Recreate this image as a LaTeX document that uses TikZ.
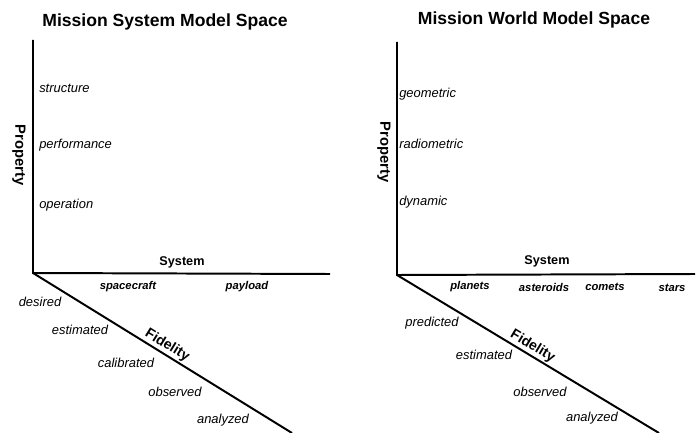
\documentclass[tikz,border=0pt]{standalone}
\usepackage{fontspec}
\setmainfont{Liberation Sans}
\usetikzlibrary{positioning}

\tikzset{
  axis/.style={line width=1.4pt},
  title/.style={font=\bfseries\fontsize{12.5}{14}\selectfont},
  axlabel/.style={font=\bfseries\fontsize{9}{10}\selectfont},
  val/.style={font=\itshape\fontsize{9.2}{10}\selectfont, anchor=west, inner sep=0pt},
  sysval/.style={font=\bfseries\itshape\fontsize{8}{9}\selectfont, inner sep=0pt},
  fidval/.style={font=\itshape\fontsize{9.2}{10}\selectfont, inner sep=0pt}
}

\begin{document}
\begin{tikzpicture}[x=0.025cm, y=-0.025cm]
\useasboundingbox (0,0) rectangle (700,433);

% mission system model space
\node[title] (t1) at (165,22) {Mission System Model Space};
\coordinate (o1) at (33,273);
\coordinate (top1) at (33,40);
\coordinate (right1) at (330,274);
\coordinate (end1) at (292,433);
\draw[axis] (top1) -- (o1) -- (right1);
\draw[axis] (o1) -- node[axlabel, font=\bfseries\fontsize{10}{10}\selectfont, pos=0.5, sloped, above, inner sep=1pt] {Fidelity} (end1);
\node[axlabel, font=\bfseries\fontsize{10.5}{10}\selectfont, rotate=-90] (p1) at (19,155) {Property};
\node[axlabel] (s1) at (182,262) {System};
\node[val] (v11) at (39,88) {structure};
\node[val] (v12) at (39,145) {performance};
\node[val] (v13) at (39,205) {operation};
\node[sysval] (h11) at (128,287) {spacecraft};
\node[sysval] (h12) at (247,287) {payload};
\node[fidval] (f11) at (40,302) {desired};
\node[fidval] (f12) at (80,330) {estimated};
\node[fidval] (f13) at (126,363) {calibrated};
\node[fidval] (f14) at (175,392) {observed};
\node[fidval] (f15) at (223,420) {analyzed};

% mission world model space
\node[title] (t2) at (534,20) {Mission World Model Space};
\coordinate (o2) at (397,275);
\coordinate (top2) at (397,42);
\coordinate (right2) at (695,274);
\coordinate (end2) at (659,433);
\draw[axis] (top2) -- (o2) -- (right2);
\draw[axis] (o2) -- node[axlabel, font=\bfseries\fontsize{10}{10}\selectfont, pos=0.5, sloped, above, inner sep=1pt] {Fidelity} (end2);
\node[axlabel, font=\bfseries\fontsize{10.5}{10}\selectfont, rotate=-90] (p2) at (384,152) {Property};
\node[axlabel] (s2) at (547,261) {System};
\node[val] (v21) at (399,94) {geometric};
\node[val] (v22) at (399,144) {radiometric};
\node[val] (v23) at (399,202) {dynamic};
\node[sysval] (h21) at (470,287) {planets};
\node[sysval] (h22) at (544,287) {asteroids};
\node[sysval] (h23) at (605,287) {comets};
\node[sysval] (h24) at (672,288) {stars};
\node[fidval] (f21) at (432,323) {predicted};
\node[fidval] (f22) at (484,355) {estimated};
\node[fidval] (f23) at (540,392) {observed};
\node[fidval] (f24) at (592,418) {analyzed};
\end{tikzpicture}
\end{document}
